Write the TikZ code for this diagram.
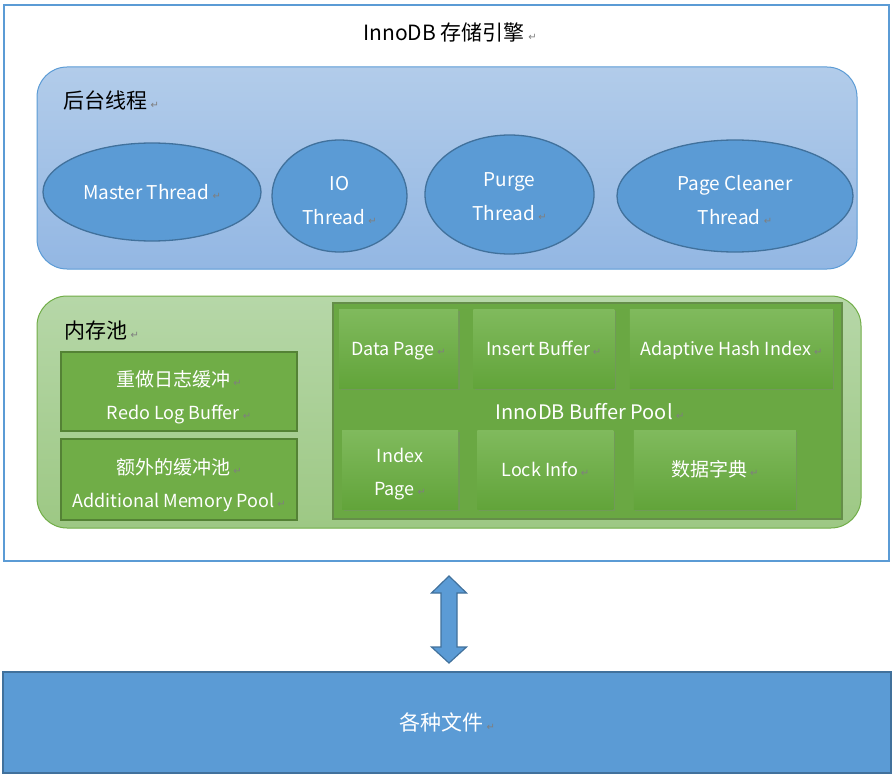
\documentclass[tikz,border=0pt]{standalone}
\usepackage{fontspec}
\setmainfont{Noto Sans CJK SC}
\newfontfamily\symfont{DejaVu Sans}
\usetikzlibrary{positioning,shapes.geometric,shadows}
\definecolor{engineblue}{HTML}{5B9BD5}
\definecolor{darkblue}{HTML}{41719C}
\definecolor{bgtop}{HTML}{B2CCEA}
\definecolor{bgbot}{HTML}{93B7E3}
\definecolor{memtop}{HTML}{B6D7A8}
\definecolor{membot}{HTML}{9DC884}
\definecolor{leafgreen}{HTML}{70AD47}
\definecolor{darkgreen}{HTML}{548235}
\definecolor{poolgreen}{HTML}{6AA843}
\definecolor{pooltop}{HTML}{80BA5D}
\definecolor{poolbot}{HTML}{62A43A}
\definecolor{markgray}{HTML}{7F7F7F}
\newcommand{\rmark}{\,{\symfont\fontsize{10}{10}\selectfont\color{markgray}↵}}

\begin{document}
\begin{tikzpicture}[x=1pt,y=-1pt,
  panel node/.style={rectangle,rounded corners=30pt,inner sep=0pt,line width=1pt},
  thread node/.style={ellipse,draw=darkblue,line width=1.3pt,fill=engineblue,text=white,inner sep=0pt,align=center,font=\fontsize{19}{34}\selectfont},
  buffer node/.style={rectangle,draw=darkgreen,line width=2pt,fill=leafgreen,text=white,inner sep=0pt,minimum width=236pt,align=center,text height=59pt,text depth=4pt,font=\fontsize{18}{33}\selectfont},
  page node/.style={rectangle,inner sep=0pt,top color=pooltop,bottom color=poolbot,text=white,align=center,text height=17.5pt,text depth=4pt,font=\fontsize{18}{33}\selectfont,drop shadow={shadow xshift=1.5pt,shadow yshift=-2pt,opacity=0.35},minimum height=79pt},
  label node/.style={inner sep=0pt,font=\fontsize{21}{21}\selectfont}]
  \useasboundingbox (0,0) rectangle (896,778);

  \node[rectangle,draw=engineblue,line width=2pt,inner sep=0pt,minimum width=885pt,minimum height=556pt] (engine) at (446,283) {};
  \node[label node] (title) at (450,32) {InnoDB 存储引擎\rmark};

  \node[panel node,draw=engineblue,top color=bgtop,bottom color=bgbot,minimum width=820pt,minimum height=202pt] (threads) at (447,168) {};
  \node[label node,anchor=west] (threadlabel) at (63,101) {后台线程\rmark};
  \node[thread node,minimum width=218pt,minimum height=98pt] (master) at (152,192) {Master Thread\rmark};
  \node[thread node,minimum width=135pt,minimum height=112pt,text height=56pt,text depth=0pt] (io) at (339.5,196) {IO\\Thread\rmark};
  \node[thread node,minimum width=169pt,minimum height=119pt,text height=51pt,text depth=0pt] (purge) at (509.5,194.5) {Purge\\Thread\rmark};
  \node[thread node,minimum width=236pt,minimum height=112pt,text height=56pt,text depth=0pt] (cleaner) at (735,196) {Page Cleaner\\Thread\rmark};

  \node[panel node,draw=leafgreen,top color=memtop,bottom color=membot,minimum width=824pt,minimum height=232pt] (mem) at (449,412) {};
  \node[label node,anchor=west] (memlabel) at (64,331) {内存池\rmark};
  \node[buffer node,minimum height=79pt] (redo) at (179,391.5) {{\fontsize{19}{19}\selectfont 重做日志缓冲\rmark}\\Redo Log Buffer\rmark};
  \node[buffer node,minimum height=81pt] (extra) at (179,479.5) {{\fontsize{19}{19}\selectfont 额外的缓冲池\rmark}\\Additional Memory Pool\rmark};

  \node[rectangle,draw=darkgreen!90,line width=1.5pt,fill=poolgreen,inner sep=0pt,minimum width=509pt,minimum height=216pt] (pool) at (587.5,411) {};
  \node[page node,minimum width=119pt] (data) at (398.5,348.5) {Data Page\rmark};
  \node[page node,minimum width=141pt,right=15pt of data] (insert) {Insert Buffer\rmark};
  \node[page node,minimum width=203pt,right=15pt of insert] (hash) {Adaptive Hash Index\rmark};
  \node[label node,text=white,font=\fontsize{20}{20}\selectfont] (poollabel) at (590,412) {InnoDB Buffer Pool\rmark};
  \node[page node,minimum width=116pt,text height=56pt] (index) at (400,469.5) {Index\\Page\rmark};
  \node[page node,minimum width=136pt,right=19pt of index] (lock) {Lock Info\rmark};
  \node[page node,minimum width=162pt,right=20pt of lock] (dict) {{\fontsize{19}{19}\selectfont 数据字典}\rmark};

  \node[rectangle,draw=darkblue,line width=2pt,fill=engineblue,text=white,inner sep=0pt,minimum width=888pt,minimum height=101pt,font=\fontsize{21}{21}\selectfont] (files) at (447,722.5) {各种文件\rmark};

  \coordinate (link) at (449,619.5);
  \draw[draw=darkblue,line width=1.2pt,fill=engineblue,shift={(link)}]
    (0,-43.5) -- (17.5,-26.5) -- (8,-26.5) -- (8,27.5) -- (17.5,27.5) -- (0,43.5)
    -- (-17.5,27.5) -- (-8,27.5) -- (-8,-26.5) -- (-17.5,-26.5) -- cycle;
\end{tikzpicture}
\end{document}
